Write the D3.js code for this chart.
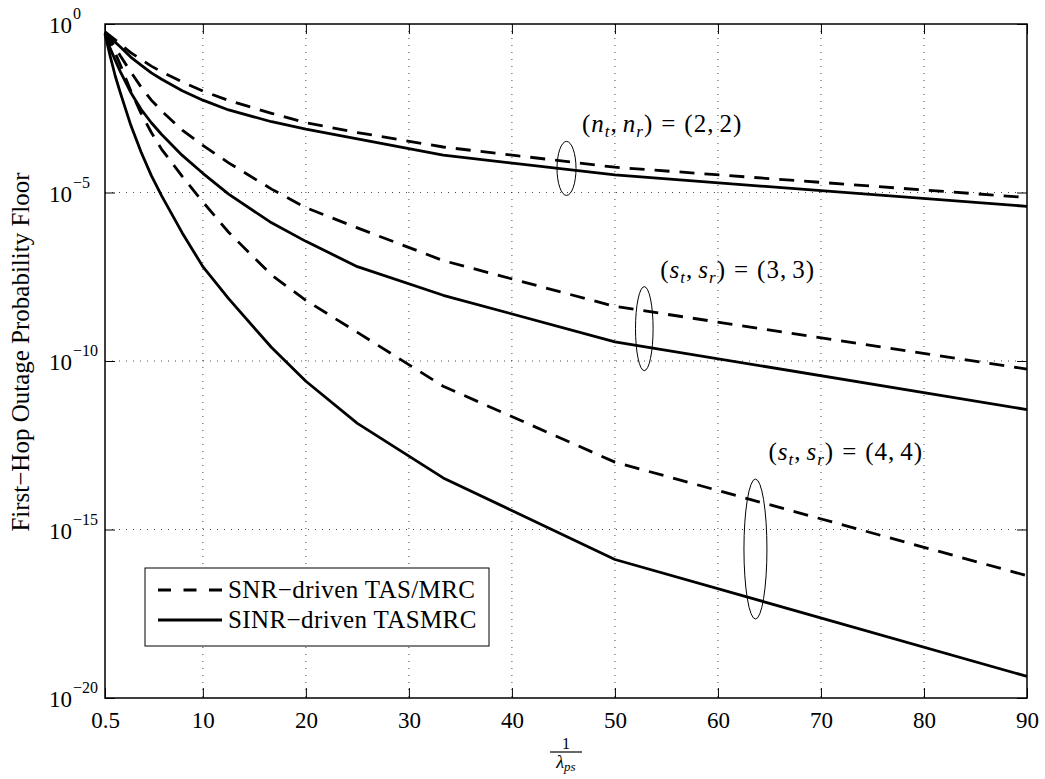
<!DOCTYPE html>
<html>
<head>
<meta charset="utf-8">
<script src="https://cdn.jsdelivr.net/npm/d3@7/dist/d3.min.js"></script>
<style>
  html, body { margin: 0; padding: 0; background: #fff; }
  svg text { font-family: "Liberation Serif", "Times New Roman", serif; fill: #000; }
</style>
</head>
<body>
<svg id="chart" width="1045" height="779"></svg>
<script>
// 1/lambda_ps sample points
const xValues = [0.5, 1, 1.5, 2, 3, 4, 5, 6, 8, 10, 12.5, 16.67, 20, 25, 33.33, 50, 90];

// outage floor, stored as powers of ten
const snr22  = [-0.23, -0.35, -0.47, -0.6, -0.85, -1.05, -1.25, -1.42, -1.72, -1.99, -2.27, -2.65, -2.93, -3.22, -3.65, -4.25, -5.15];
const sinr22 = [-0.25, -0.4, -0.54, -0.68, -0.98, -1.22, -1.45, -1.64, -1.98, -2.26, -2.55, -2.9, -3.12, -3.41, -3.89, -4.48, -5.41];
const snr33  = [-0.25, -0.45, -0.7, -0.95, -1.42, -1.87, -2.26, -2.58, -3.15, -3.6, -4.12, -4.9, -5.45, -6.05, -7.02, -8.38, -10.24];
const sinr33 = [-0.3, -0.72, -1.08, -1.42, -2.03, -2.53, -2.93, -3.28, -3.9, -4.43, -5.05, -5.9, -6.45, -7.2, -8.05, -9.43, -11.44];
const snr44  = [-0.25, -0.55, -0.87, -1.22, -1.98, -2.65, -3.22, -3.72, -4.52, -5.28, -6.18, -7.45, -8.2, -9.15, -10.75, -13.0, -16.37];
const sinr44 = [-0.3, -0.95, -1.55, -2.05, -3.0, -3.8, -4.5, -5.1, -6.2, -7.2, -8.15, -9.6, -10.6, -11.85, -13.47, -15.89, -19.36];

const xTicks = [0.5, 10, 20, 30, 40, 50, 60, 70, 80, 90];
const yTickExp = [0, -5, -10, -15, -20];

const legendLabels = ["SNR\u2212driven TAS/MRC", "SINR\u2212driven TASMRC"];

// ellipse markers: [x, power of ten, rx px, ry px]
const groupRings = [
  [45.3, -4.285, 9.5, 27],
  [52.85, -9.04, 8.8, 42],
  [63.64, -15.58, 11.5, 70]
];

const width = 1045, height = 779;
const margin = { top: 24, right: 18, bottom: 81, left: 105 };
const W = width - margin.left - margin.right;
const H = height - margin.top - margin.bottom;

const svg = d3.select("#chart");
const g = svg.append("g").attr("transform", `translate(${margin.left},${margin.top})`);

const x = d3.scaleLinear().domain([0.5, 90]).range([0, W]);
const y = d3.scaleLog().domain([1e-20, 1]).range([H, 0]);

// grid
g.append("g").selectAll("line").data(xTicks.slice(1, -1)).join("line")
  .attr("x1", d => x(d)).attr("x2", d => x(d))
  .attr("y1", 0).attr("y2", H)
  .attr("stroke", "#333").attr("stroke-width", 0.9).attr("stroke-dasharray", "1,6");
g.append("g").selectAll("line").data(yTickExp.slice(1, -1)).join("line")
  .attr("x1", 0).attr("x2", W)
  .attr("y1", d => y(Math.pow(10, d))).attr("y2", d => y(Math.pow(10, d)))
  .attr("stroke", "#333").attr("stroke-width", 0.9).attr("stroke-dasharray", "1,6");

// axes (ticks inward)
const xAxis = d3.axisBottom(x).tickValues(xTicks).tickSize(-10).tickFormat(d => d === 0.5 ? "0.5" : d3.format("d")(d)).tickPadding(14);
const xAxisTop = d3.axisTop(x).tickValues(xTicks).tickSize(-10).tickFormat("");
const yAxis = d3.axisLeft(y).tickValues(yTickExp.map(e => Math.pow(10, e))).tickSize(-10).tickFormat("");
const yAxisRight = d3.axisRight(y).tickValues(yTickExp.map(e => Math.pow(10, e))).tickSize(-10).tickFormat("");

function styleAxis(sel) {
  sel.select(".domain").remove();
  sel.selectAll(".tick line").attr("stroke", "#000").attr("stroke-width", 1);
  sel.selectAll("text").attr("font-size", 23);
}
g.append("g").attr("transform", `translate(0,${H})`).call(xAxis).call(styleAxis);
g.append("g").call(xAxisTop).call(styleAxis);
g.append("g").call(yAxis).call(styleAxis);
g.append("g").attr("transform", `translate(${W},0)`).call(yAxisRight).call(styleAxis);

// y tick labels as 10^k
const yl = g.append("g");
yTickExp.forEach(e => {
  const yy = y(Math.pow(10, e));
  yl.append("text").attr("x", 72 - margin.left).attr("y", yy + 9)
    .attr("text-anchor", "end").attr("font-size", 23).text("10");
  yl.append("text").attr("x", 73 - margin.left).attr("y", yy - 5)
    .attr("text-anchor", "start").attr("font-size", 16).text(e === 0 ? "0" : "\u2212" + (-e));
});

// frame
g.append("rect").attr("width", W).attr("height", H).attr("fill", "none")
  .attr("stroke", "#000").attr("stroke-width", 1.5);

// curves
const line = d3.line().x((d, i) => x(xValues[i])).y(d => y(Math.pow(10, d)));
const series = [
  { data: snr22, dash: true }, { data: sinr22, dash: false },
  { data: snr33, dash: true }, { data: sinr33, dash: false },
  { data: snr44, dash: true }, { data: sinr44, dash: false }
];
g.append("g").selectAll("path").data(series).join("path")
  .attr("d", d => line(d.data))
  .attr("fill", "none").attr("stroke", "#000").attr("stroke-width", 2.8)
  .attr("stroke-linejoin", "round")
  .attr("stroke-dasharray", d => d.dash ? "15,10" : null);

// ellipses
g.append("g").selectAll("ellipse").data(groupRings).join("ellipse")
  .attr("cx", d => x(d[0])).attr("cy", d => y(Math.pow(10, d[1])))
  .attr("rx", d => d[2]).attr("ry", d => d[3])
  .attr("fill", "none").attr("stroke", "#000").attr("stroke-width", 1);

// annotation labels, TeX-like spacing
function mathLabel(px, py, a, vals) {
  const t = g.append("text").attr("x", px).attr("y", py).attr("font-size", 25)
    .attr("letter-spacing", 1);
  t.append("tspan").text("(");
  t.append("tspan").attr("font-style", "italic").text(a);
  t.append("tspan").attr("font-style", "italic").attr("font-size", 17).attr("dy", 5).text("t");
  t.append("tspan").attr("dy", -5).text(",");
  t.append("tspan").attr("dx", 5).attr("font-style", "italic").text(a);
  t.append("tspan").attr("font-style", "italic").attr("font-size", 17).attr("dy", 5).text("r");
  t.append("tspan").attr("dy", -5).text(")");
  t.append("tspan").attr("dx", 8).text("=");
  t.append("tspan").attr("dx", 8).text("(" + vals[0] + ",");
  t.append("tspan").attr("dx", 5).text(vals[1] + ")");
}
mathLabel(x(46.8), y(Math.pow(10, -3.2)), "n", ["2", "2"]);
mathLabel(x(54.4), y(Math.pow(10, -7.55)), "s", ["3", "3"]);
mathLabel(x(64.9), y(Math.pow(10, -12.95)), "s", ["4", "4"]);

// legend
const lg = g.append("g").attr("transform", `translate(${145 - margin.left},${568 - margin.top})`);
lg.append("rect").attr("width", 344).attr("height", 78).attr("fill", "#fff")
  .attr("stroke", "#000").attr("stroke-width", 1);
legendLabels.forEach((lab, i) => {
  const yy = 22 + i * 30;
  lg.append("line").attr("x1", 13).attr("x2", 77).attr("y1", yy).attr("y2", yy)
    .attr("stroke", "#000").attr("stroke-width", 2.8)
    .attr("stroke-dasharray", i === 0 ? "13,12.5" : null);
  lg.append("text").attr("x", 83).attr("y", yy + 8).attr("font-size", 25)
    .attr("letter-spacing", 0.4).text(lab);
});

// axis labels
svg.append("text").attr("transform", `translate(29,352) rotate(-90)`)
  .attr("text-anchor", "middle").attr("font-size", 25)
  .text("First\u2212Hop Outage Probability Floor");

const cx = margin.left + W / 2;
svg.append("text").attr("x", cx).attr("y", 749).attr("text-anchor", "middle")
  .attr("font-size", 16).text("1");
svg.append("line").attr("x1", cx - 16).attr("x2", cx + 16).attr("y1", 752).attr("y2", 752)
  .attr("stroke", "#000").attr("stroke-width", 1.2);
const lam = svg.append("text").attr("x", cx).attr("y", 768).attr("text-anchor", "middle")
  .attr("font-size", 18).attr("font-style", "italic");
lam.append("tspan").text("\u03bb");
lam.append("tspan").attr("font-size", 13).attr("dy", 3).text("ps");
</script>
</body>
</html>
